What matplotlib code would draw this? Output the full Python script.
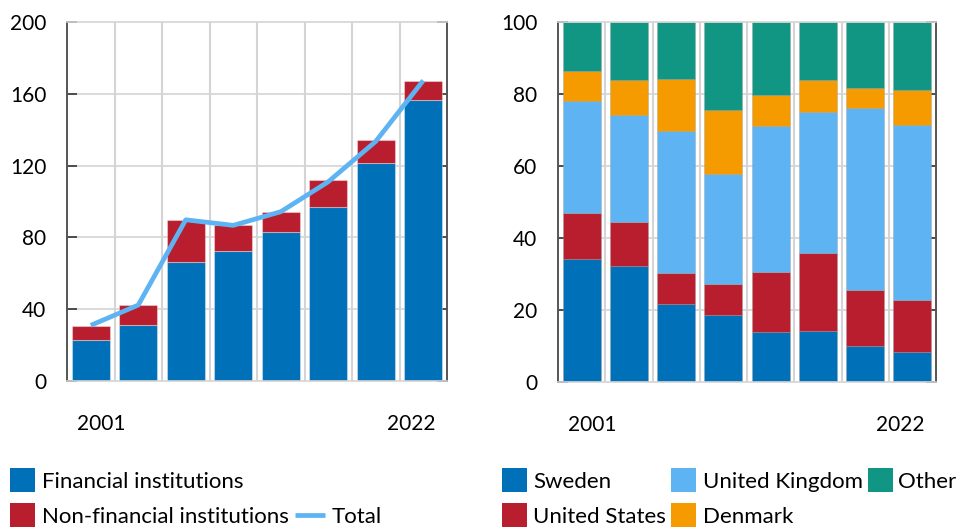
import matplotlib
matplotlib.use("Agg")
import matplotlib.pyplot as plt
from matplotlib.patches import Rectangle
from matplotlib.lines import Line2D
import numpy as np

plt.rcParams['font.family'] = ['Lato', 'DejaVu Sans']

# ---- data ----
years = [2001, 2004, 2007, 2010, 2013, 2016, 2019, 2022]
financial = [22.7, 31.3, 66.4, 72.7, 83.1, 96.7, 121.2, 156.8]
non_financial = [8.1, 11.0, 23.1, 14.0, 11.2, 15.5, 12.8, 10.6]
total = [31.0, 42.3, 89.8, 86.7, 94.3, 111.0, 133.5, 167.4]

sweden = [34.3, 32.1, 21.6, 18.5, 14.0, 14.3, 10.0, 8.2]
united_states = [12.7, 12.3, 8.8, 8.6, 16.5, 21.5, 15.5, 14.5]
united_kingdom = [31.0, 29.7, 39.3, 30.7, 40.6, 39.2, 50.7, 48.6]
denmark = [8.5, 9.8, 14.5, 17.7, 8.7, 9.0, 5.5, 9.8]
other = [13.5, 16.1, 15.8, 24.5, 20.2, 16.0, 18.3, 18.9]

left_ylim = (0, 200)
left_yticks = [0, 40, 80, 120, 160, 200]
right_ylim = (0, 100)
right_yticks = [0, 20, 40, 60, 80, 100]

C_DBLUE = '#0070b8'
C_RED = '#b81e2d'
C_LBLUE = '#5eb3f2'
C_ORANGE = '#f59b00'
C_TEAL = '#109682'
GRID = '#d4d4d4'
SPINE = '#555555'

W, H = 957, 527
fig = plt.figure(figsize=(W / 100, H / 100), dpi=100)

def fx(px):
    return px / W

def fy(py):
    return 1 - py / H

ax1 = fig.add_axes([fx(67), fy(381), fx(447) - fx(67), fy(22) - fy(381)])
ax2 = fig.add_axes([fx(558), fy(382), fx(936) - fx(558), fy(22) - fy(382)])

FS = 15
FS_LEG = 16
x = np.arange(len(years))

def style(ax, ylim, yticks):
    ax.set_xlim(-0.5, len(years) - 0.5)
    ax.set_ylim(*ylim)
    ax.set_yticks(yticks)
    ax.set_yticklabels([str(t) for t in yticks], fontsize=FS)
    ax.set_xticks([0.23, 6.75])
    ax.set_xticklabels([str(years[0]), str(years[-1])], fontsize=FS)
    ax.tick_params(axis='x', length=0, pad=24)
    ax.tick_params(axis='y', direction='in', length=7, width=1.2, color='#333333',
                   pad=15, left=True, right=True)
    for s in ['left', 'right']:
        ax.spines[s].set_color(SPINE)
        ax.spines[s].set_linewidth(1.4)
    for s in ['top', 'bottom']:
        ax.spines[s].set_color(GRID)
        ax.spines[s].set_linewidth(1.2)
    for t in yticks[1:-1]:
        ax.axhline(t, color=GRID, lw=1.2, zorder=0)
    for b in np.arange(0.5, len(years) - 0.5, 1.0):
        ax.axvline(b, color=GRID, lw=1.5, zorder=0)
    ax.set_axisbelow(True)

style(ax1, left_ylim, left_yticks)
style(ax2, right_ylim, right_yticks)

EDGE = (1, 1, 1, 0.35)
ax1.bar(x, financial, width=0.8, color=C_DBLUE, edgecolor=EDGE, lw=0.8, zorder=2)
ax1.bar(x, non_financial, width=0.8, bottom=financial, color=C_RED, edgecolor=EDGE, lw=0.8, zorder=2)
ax1.plot(x, total, color=C_LBLUE, lw=3.4, zorder=3, solid_capstyle='butt')

bottom = np.zeros(len(years))
for vals, col in [(sweden, C_DBLUE), (united_states, C_RED), (united_kingdom, C_LBLUE),
                  (denmark, C_ORANGE), (other, C_TEAL)]:
    ax2.bar(x, vals, width=0.8, bottom=bottom, color=col, edgecolor=(0.6, 0.6, 0.6, 0.4),
            lw=0.6, zorder=2)
    bottom = bottom + np.array(vals)

# ---- legends (manual flow layout) ----
def patch(px, py, col):
    fig.add_artist(Rectangle((fx(px), fy(py + 24)), fx(25), 24 / H,
                             transform=fig.transFigure, color=col, lw=0))

def label(px, base_py, s):
    fig.text(fx(px), fy(base_py), s, fontsize=FS_LEG, va='baseline', ha='left', color='#000000')

row1_top, row2_top = 468, 503
row1_base, row2_base = 488, 523

patch(10, row1_top, C_DBLUE); label(42, row1_base, 'Financial institutions')
patch(10, row2_top, C_RED); label(42, row2_base, 'Non-financial institutions')
fig.add_artist(Line2D([fx(295), fx(325)], [fy(515), fy(515)], transform=fig.transFigure,
                      color=C_LBLUE, lw=3.4, solid_capstyle='butt'))
label(332, row2_base, 'Total')

patch(502, row1_top, C_DBLUE); label(533, row1_base, 'Sweden')
patch(502, row2_top, C_RED); label(533, row2_base, 'United States')
patch(671, row1_top, C_LBLUE); label(703, row1_base, 'United Kingdom')
patch(671, row2_top, C_ORANGE); label(703, row2_base, 'Denmark')
patch(868, row1_top, C_TEAL); label(898, row1_base, 'Other')

fig.savefig('out.png', dpi=100)
